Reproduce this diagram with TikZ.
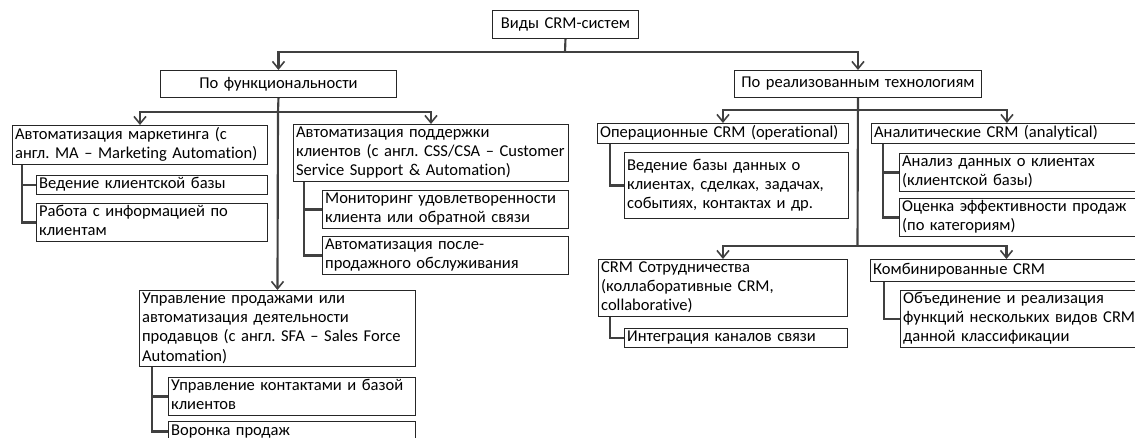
\documentclass[tikz,border=0pt]{standalone}
\usepackage{fontspec}
\setmainfont{Carlito}[Ligatures=CommonOff]
\usetikzlibrary{arrows.meta}
\frenchspacing
\newcommand\boxlines[1]{\begin{tabular}{@{}l@{}}#1\end{tabular}}
\definecolor{edge}{HTML}{404040}
\tikzset{
  every node/.style={font=\fontsize{12.4}{14.3}\selectfont, text=black},
  bx/.style 2 args={draw=black!85, line width=0.7pt, anchor=north west,
    inner xsep=2pt, inner ysep=0pt, text width={(#1)*0.75pt-4pt},
    minimum height={(#2)*0.75pt}, align=left},
  cbx/.style 2 args={bx={#1}{#2}, align=center},
  conn/.style={draw=edge, line width=1.6pt},
  arr/.style={conn, -{Straight Barb[length=5.5pt,width=9pt,line width=1.2pt]}},
}
\begin{document}
\begin{tikzpicture}[x=0.75pt,y=-0.75pt]
\useasboundingbox (0,0) rectangle (1135,437);
\clip (0,0) rectangle (1135,437);
% top levels
\node[cbx={146}{28}] (root) at (492,10) {Виды CRM-систем};
\node[cbx={236}{27}] (func) at (160,70) {По функциональности};
\node[cbx={247}{27}] (tech) at (734,70) {По реализованным технологиям};
% functional branch
\node[bx={255}{39}] (ma) at (12,125) {\boxlines{Автоматизация маркетинга (с\\англ. MA – Marketing Automation)}};
\node[bx={231}{18}] (ma1) at (36,175) {\boxlines{Ведение клиентской базы}};
\node[bx={231}{36}] (ma2) at (36,203) {\boxlines{Работа с информацией по\\клиентам}};
\node[bx={275}{57}] (css) at (293,124) {\boxlines{Автоматизация поддержки\\клиентов (с англ. CSS/CSA – Customer\\Service Support \& Automation)}};
\node[bx={246}{36}] (css1) at (322,190) {\boxlines{Мониторинг удовлетворенности\\клиента или обратной связи}};
\node[bx={246}{35}] (css2) at (322,236) {\boxlines{Автоматизация после-\\продажного обслуживания}};
\node[bx={276}{74}] (sfa) at (139,290) {\boxlines{Управление продажами или\\автоматизация деятельности\\продавцов (с англ. SFA – Sales Force\\Automation)}};
\node[bx={247}{35}] (sfa1) at (168,377) {\boxlines{Управление контактами и базой\\клиентов}};
\node[bx={247}{20}] (sfa2) at (168,421) {\boxlines{Воронка продаж}};
% technology branch
\node[bx={251}{20}] (op) at (597,123) {\boxlines{Операционные CRM (operational)}};
\node[bx={224}{66}] (op1) at (624,152) {\boxlines{Ведение базы данных о\\клиентах, сделках, задачах,\\событиях, контактах и др.}};
\node[bx={271}{20}] (an) at (871,123) {\boxlines{Аналитические CRM (analytical)}};
\node[bx={243}{36}] (an1) at (899,153) {\boxlines{Анализ данных о клиентах\\(клиентской базы)}};
\node[bx={243}{36}] (an2) at (899,198) {\boxlines{Оценка эффективности продаж\\(по категориям)}};
\node[bx={249}{57}] (col) at (598,259) {\boxlines{CRM Сотрудничества\\(коллаборативные CRM,\\collaborative)}};
\node[bx={223}{18}] (col1) at (624,328) {\boxlines{Интеграция каналов связи}};
\node[bx={272}{22}] (comb) at (870,259) {\boxlines{Комбинированные CRM}};
\node[bx={242}{56}] (comb1) at (900,290) {\boxlines{Объединение и реализация\\функций нескольких видов CRM\\данной классификации}};
% junctions
\coordinate (j0) at (565,52);
\coordinate (j1) at (278,112);
\coordinate (j2) at (857.5,110);
\coordinate (j3) at (857.5,246);
% connectors
\draw[conn] (root.south) -- (j0);
\draw[arr] (j0) -| (func.north);
\draw[arr] (j0) -| (tech.north);
\draw[conn] (func.south) -- (j1);
\draw[arr] (j1) -| (ma.north);
\draw[arr] (j1) -| (css.north);
\draw[arr] (j1) -- (sfa.north);
\draw[conn] (tech.south) -- (j3);
\draw[arr] (j2) -| (op.north);
\draw[arr] (j2) -| (an.north);
\draw[arr] (j3) -| (col.north);
\draw[arr] (j3) -| (comb.north);
% trees
\draw[conn] ([xshift=7.5pt]ma.south west) |- (ma1.west);
\draw[conn] ([xshift=7.5pt]ma.south west) |- (ma2.west);
\draw[conn] ([xshift=8.25pt]css.south west) |- (css1.west);
\draw[conn] ([xshift=8.25pt]css.south west) |- (css2.west);
\draw[conn] ([xshift=9.75pt]sfa.south west) |- (sfa1.west);
\draw[conn] ([xshift=9.75pt]sfa.south west) |- (sfa2.west);
\draw[conn] ([xshift=9.75pt]op.south west) |- (op1.west);
\draw[conn] ([xshift=9pt]an.south west) |- (an1.west);
\draw[conn] ([xshift=9pt]an.south west) |- (an2.west);
\draw[conn] ([xshift=9pt]col.south west) |- (col1.west);
\draw[conn] ([xshift=10.5pt]comb.south west) |- (comb1.west);
\end{tikzpicture}
\end{document}
